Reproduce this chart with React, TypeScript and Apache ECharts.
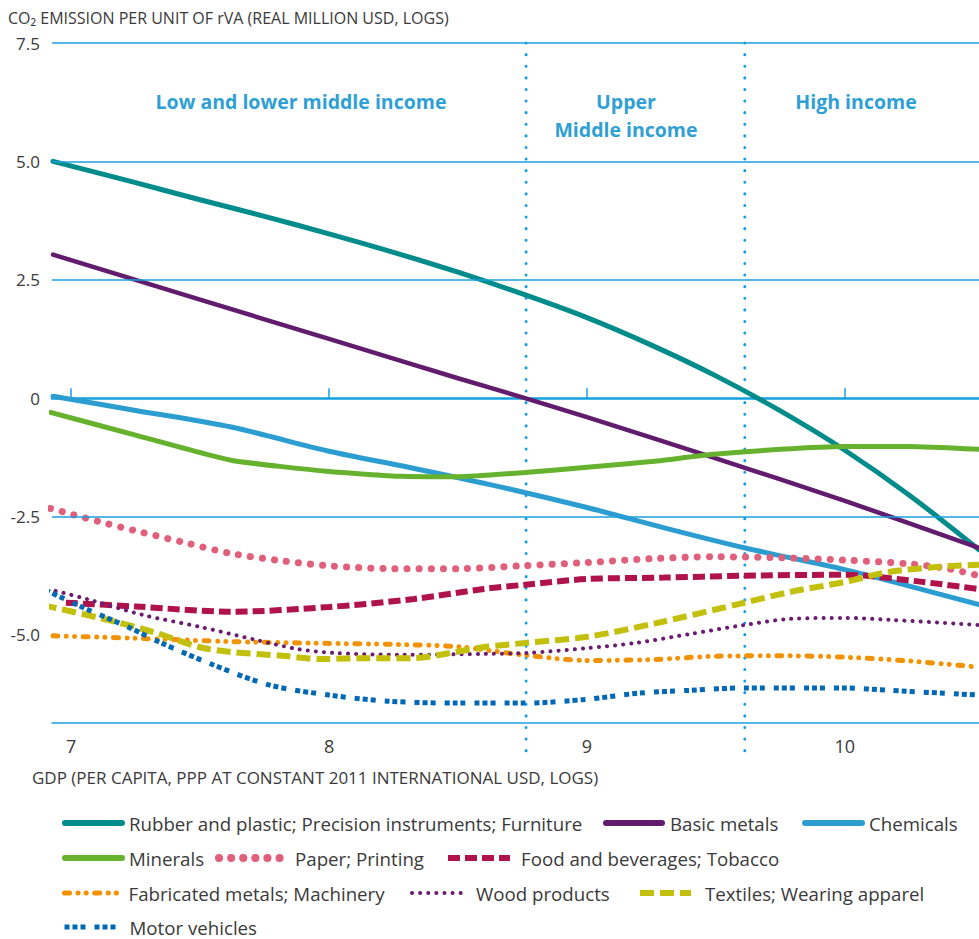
import React, { useEffect, useRef } from "react";
import * as echarts from "echarts";

// ---------- data ----------
const seriesNames = [
  "Rubber and plastic; Precision instruments; Furniture",
  "Basic metals",
  "Chemicals",
  "Minerals",
  "Paper; Printing",
  "Food and beverages; Tobacco",
  "Fabricated metals; Machinery",
  "Wood products",
  "Textiles; Wearing apparel",
  "Motor vehicles",
];

const xTicks = [7, 8, 9, 10];
const yTicks = [-5, -2.5, 0, 2.5, 5, 7.5];
const gridValues = [7.5, 5, 2.5, -2.5];
const incomeBounds = [8.764, 9.612];
const xRange = [6.926, 10.52];
const yRange = [-6.86, 7.5];

const rubber: [number, number][] = [
  [6.93, 5.0], [7.25, 4.55], [7.5, 4.19], [7.75, 3.84], [8.0, 3.47], [8.25, 3.08],
  [8.5, 2.66], [8.75, 2.2], [9.0, 1.7], [9.25, 1.12], [9.5, 0.47], [9.75, -0.27],
  [10.0, -1.1], [10.25, -2.05], [10.52, -3.2],
];
const basicMetals: [number, number][] = [
  [6.93, 3.03], [7.5, 2.08], [8.0, 1.25], [8.5, 0.42], [8.76, 0.0], [9.0, -0.4],
  [9.5, -1.27], [10.0, -2.17], [10.52, -3.16],
];
const chemicals: [number, number][] = [
  [6.93, 0.04], [7.25, -0.26], [7.62, -0.61], [8.0, -1.12], [8.3, -1.45], [8.62, -1.82],
  [9.0, -2.31], [9.3, -2.74], [9.61, -3.16], [10.0, -3.62], [10.25, -3.97], [10.52, -4.36],
];
const minerals: [number, number][] = [
  [6.92, -0.3], [7.25, -0.78], [7.62, -1.31], [8.0, -1.55], [8.28, -1.65], [8.5, -1.66],
  [8.76, -1.57], [9.0, -1.46], [9.25, -1.34], [9.48, -1.19], [9.75, -1.08], [10.0, -1.02],
  [10.25, -1.02], [10.52, -1.08],
];
const paper: [number, number][] = [
  [6.92, -2.33], [7.11, -2.61], [7.25, -2.8], [7.44, -3.05], [7.62, -3.28], [7.81, -3.43],
  [8.0, -3.54], [8.25, -3.6], [8.5, -3.6], [8.75, -3.54], [9.0, -3.47], [9.25, -3.39],
  [9.5, -3.35], [9.75, -3.37], [10.0, -3.42], [10.25, -3.5], [10.4, -3.6], [10.52, -3.75],
];
const food: [number, number][] = [
  [6.98, -4.32], [7.25, -4.4], [7.62, -4.51], [8.0, -4.41], [8.33, -4.24], [8.6, -4.03],
  [8.76, -3.94], [9.0, -3.82], [9.3, -3.79], [9.6, -3.75], [10.0, -3.73], [10.1, -3.76],
  [10.3, -3.88], [10.52, -4.03],
];
const fabricated: [number, number][] = [
  [6.93, -5.02], [7.25, -5.07], [7.62, -5.14], [8.0, -5.18], [8.25, -5.2], [8.5, -5.25],
  [8.75, -5.42], [9.0, -5.54], [9.25, -5.52], [9.5, -5.45], [9.75, -5.44], [10.0, -5.47],
  [10.25, -5.55], [10.52, -5.68],
];
const wood: [number, number][] = [
  [6.94, -4.07], [7.06, -4.24], [7.28, -4.58], [7.5, -4.83], [7.72, -5.11], [7.88, -5.3],
  [8.02, -5.38], [8.28, -5.42], [8.61, -5.4], [8.77, -5.38], [9.0, -5.28], [9.19, -5.17],
  [9.4, -4.98], [9.61, -4.79], [9.79, -4.66], [10.0, -4.64], [10.17, -4.68], [10.52, -4.79],
];
const textiles: [number, number][] = [
  [6.89, -4.37], [7.11, -4.64], [7.32, -4.94], [7.5, -5.26], [7.62, -5.36], [7.82, -5.44],
  [7.97, -5.51], [8.15, -5.49], [8.33, -5.49], [8.47, -5.38], [8.61, -5.25], [8.76, -5.17],
  [9.0, -5.04], [9.27, -4.75], [9.61, -4.32], [9.79, -4.09], [10.0, -3.88], [10.17, -3.67],
  [10.37, -3.56], [10.52, -3.52],
];
const motor: [number, number][] = [
  [6.9, -4.05], [7.05, -4.43], [7.22, -4.83], [7.35, -5.17], [7.55, -5.63], [7.77, -6.06],
  [8.0, -6.27], [8.23, -6.4], [8.5, -6.44], [8.76, -6.44], [9.0, -6.36], [9.2, -6.23],
  [9.4, -6.17], [9.61, -6.12], [10.0, -6.12], [10.17, -6.17], [10.52, -6.27],
];

const incomeLabels = ["Low and lower middle income", "Upper", "Middle income", "High income"];
const yAxisTitle = "CO\u2082 EMISSION PER UNIT OF rVA (REAL MILLION USD, LOGS)";
const xAxisTitle = "GDP (PER CAPITA, PPP AT CONSTANT 2011 INTERNATIONAL USD, LOGS)";

// ---------- styles ----------
const FONT = "'Open Sans', 'Noto Sans', sans-serif";
const GRID = "#1c9fdb";
const TEXT = "#3a3a3a";
const LABEL_BLUE = "#2ea0d3";

export default function App() {
  const ref = useRef<HTMLDivElement>(null);

  useEffect(() => {
    if (!ref.current) return;
    const chart = echarts.init(ref.current, null, { renderer: "svg" });

    const line = (
      name: string,
      data: [number, number][],
      color: string,
      width: number,
      type: any,
      cap: string,
      extra: any = {}
    ) => ({
      type: "line",
      name,
      data,
      smooth: 0.3,
      symbol: "none",
      showSymbol: false,
      silent: true,
      z: 3,
      itemStyle: { color },
      lineStyle: { color, width, type, cap },
      emphasis: { disabled: true },
      ...extra,
    });

    const series: any[] = [
      {
        type: "line",
        name: "__grid",
        data: [],
        silent: true,
        z: 1,
        markLine: {
          silent: true,
          symbol: ["none", "none"],
          label: { show: false },
          emphasis: { disabled: true },
          lineStyle: { color: GRID, width: 1.5, type: "solid" },
          data: gridValues.map((v) => ({ yAxis: v })),
        },
      },
      line(seriesNames[0], rubber, "#008c8b", 5, "solid", "round"),
      line(seriesNames[1], basicMetals, "#621c6e", 4.5, "solid", "round"),
      line(seriesNames[2], chemicals, "#2b9dd0", 5, "solid", "round"),
      line(seriesNames[3], minerals, "#66b22e", 5, "solid", "round", { smooth: 0.15 }),
      line(seriesNames[4], paper, "#e0607c", 7, [0.1, 12], "round"),
      line(seriesNames[5], food, "#b0124b", 6, [12, 5], "butt"),
      line(seriesNames[6], fabricated, "#f39200", 5, [5, 8.5, 0.1, 8, 0.1, 8.5], "round"),
      line(seriesNames[7], wood, "#6a1d6e", 4, [0.1, 8], "round"),
      line(seriesNames[8], textiles, "#c2c00a", 6, [14, 6], "butt", { clip: false }),
      line(seriesNames[9], motor, "#0068b4", 5, [5, 3, 5, 3, 5, 9], "butt", { clip: false }),
    ];

    // legend layout: icon left, icon width, text start, row centre, icon line width
    const legendLayout = [
      [62, 57, 126, 823, 6],
      [603, 56, 667, 823, 6],
      [802, 57, 866, 823, 6],
      [62, 57, 126, 858, 6],
      [215, 71, 290, 858, 8],
      [445, 62, 518, 858, 6],
      [62, 55, 126, 893, 5],
      [410, 55, 474, 893, 4],
      [637, 51, 702, 893, 6],
      [62, 51, 127, 927, 5],
    ];

    const legend = seriesNames.map((name, i) => {
      const [left, w, textStart, cy, lw] = legendLayout[i];
      const pad = Math.max(0, textStart - (left + w) - 5);
      return {
        data: [name],
        left,
        top: cy - 10,
        padding: 0,
        itemWidth: w,
        itemHeight: 14,
        selectedMode: false,
        itemStyle: { opacity: 0 },
        lineStyle: { width: lw },
        textStyle: {
          fontFamily: FONT,
          fontSize: 18.7,
          color: TEXT,
          lineHeight: 20,
          padding: [0, 0, 0, pad],
        },
      };
    });

    const option: any = {
      animation: false,
      backgroundColor: "#ffffff",
      textStyle: { fontFamily: FONT },
      grid: { left: 52, right: 0, top: 43, bottom: 216, containLabel: false },
      legend,
      xAxis: [
        {
          type: "value",
          min: xRange[0],
          max: xRange[1],
          position: "bottom",
          axisLine: { show: true, onZero: false, lineStyle: { color: GRID, width: 1.5 } },
          axisTick: { show: false },
          splitLine: { show: false },
          axisLabel: {
            customValues: xTicks,
            fontSize: 18,
            color: TEXT,
            margin: 14,
            fontFamily: FONT,
          },
        },
        {
          type: "value",
          min: xRange[0],
          max: xRange[1],
          position: "bottom",
          axisLine: {
            show: true,
            onZero: true,
            onZeroAxisIndex: 0,
            lineStyle: { color: "#12a0df", width: 2.5 },
          },
          axisTick: {
            show: true,
            inside: true,
            length: 10,
            customValues: xTicks,
            lineStyle: { color: "#12a0df", width: 1.5 },
          },
          axisLabel: { show: false },
          splitLine: { show: false },
        },
      ],
      yAxis: {
        type: "value",
        min: yRange[0],
        max: yRange[1],
        axisLine: { show: false },
        axisTick: { show: false },
        splitLine: { show: false },
        axisLabel: {
          customValues: yTicks,
          formatter: (v: number) => (v === 0 ? "0" : v.toFixed(1)),
          fontSize: 17,
          color: TEXT,
          margin: 12,
          fontFamily: FONT,
        },
      },
      series,
    };

    chart.setOption(option);

    const yTop = chart.convertToPixel({ yAxisIndex: 0 }, yRange[1]) as number;
    const yBot = (chart.convertToPixel({ yAxisIndex: 0 }, yRange[0]) as number) + 37;
    const vLines = incomeBounds.map((v) => {
      const x = chart.convertToPixel({ xAxisIndex: 0 }, v) as number;
      return {
        type: "line",
        z: 0,
        silent: true,
        shape: { x1: x, y1: yTop, x2: x, y2: yBot },
        style: { stroke: "#169fe0", lineWidth: 3, lineDash: [0.1, 11.5], lineCap: "round" },
      };
    });

    const txt = (text: string, x: number, y: number, size: number, fill: string, weight: any, align: string) => ({
      type: "text",
      x,
      y,
      silent: true,
      z: 5,
      style: {
        text,
        fill,
        fontSize: size,
        fontFamily: FONT,
        fontWeight: weight,
        align,
        verticalAlign: "middle",
      },
    });

    chart.setOption({
      graphic: [
        ...vLines,
        txt(yAxisTitle, 8, 18, 16, TEXT, "normal", "left"),
        txt(xAxisTitle, 32, 777, 17, TEXT, "normal", "left"),
        txt(incomeLabels[0], 301, 101, 19.5, LABEL_BLUE, "bold", "center"),
        txt(incomeLabels[1], 626, 101, 19.5, LABEL_BLUE, "bold", "center"),
        txt(incomeLabels[2], 626, 129, 19.5, LABEL_BLUE, "bold", "center"),
        txt(incomeLabels[3], 856, 101, 19.5, LABEL_BLUE, "bold", "center"),
      ],
    });

    return () => chart.dispose();
  }, []);

  return (
    <div
      ref={ref}
      style={{ position: "fixed", left: 0, top: 0, width: 979, height: 939, background: "#fff" }}
    />
  );
}
